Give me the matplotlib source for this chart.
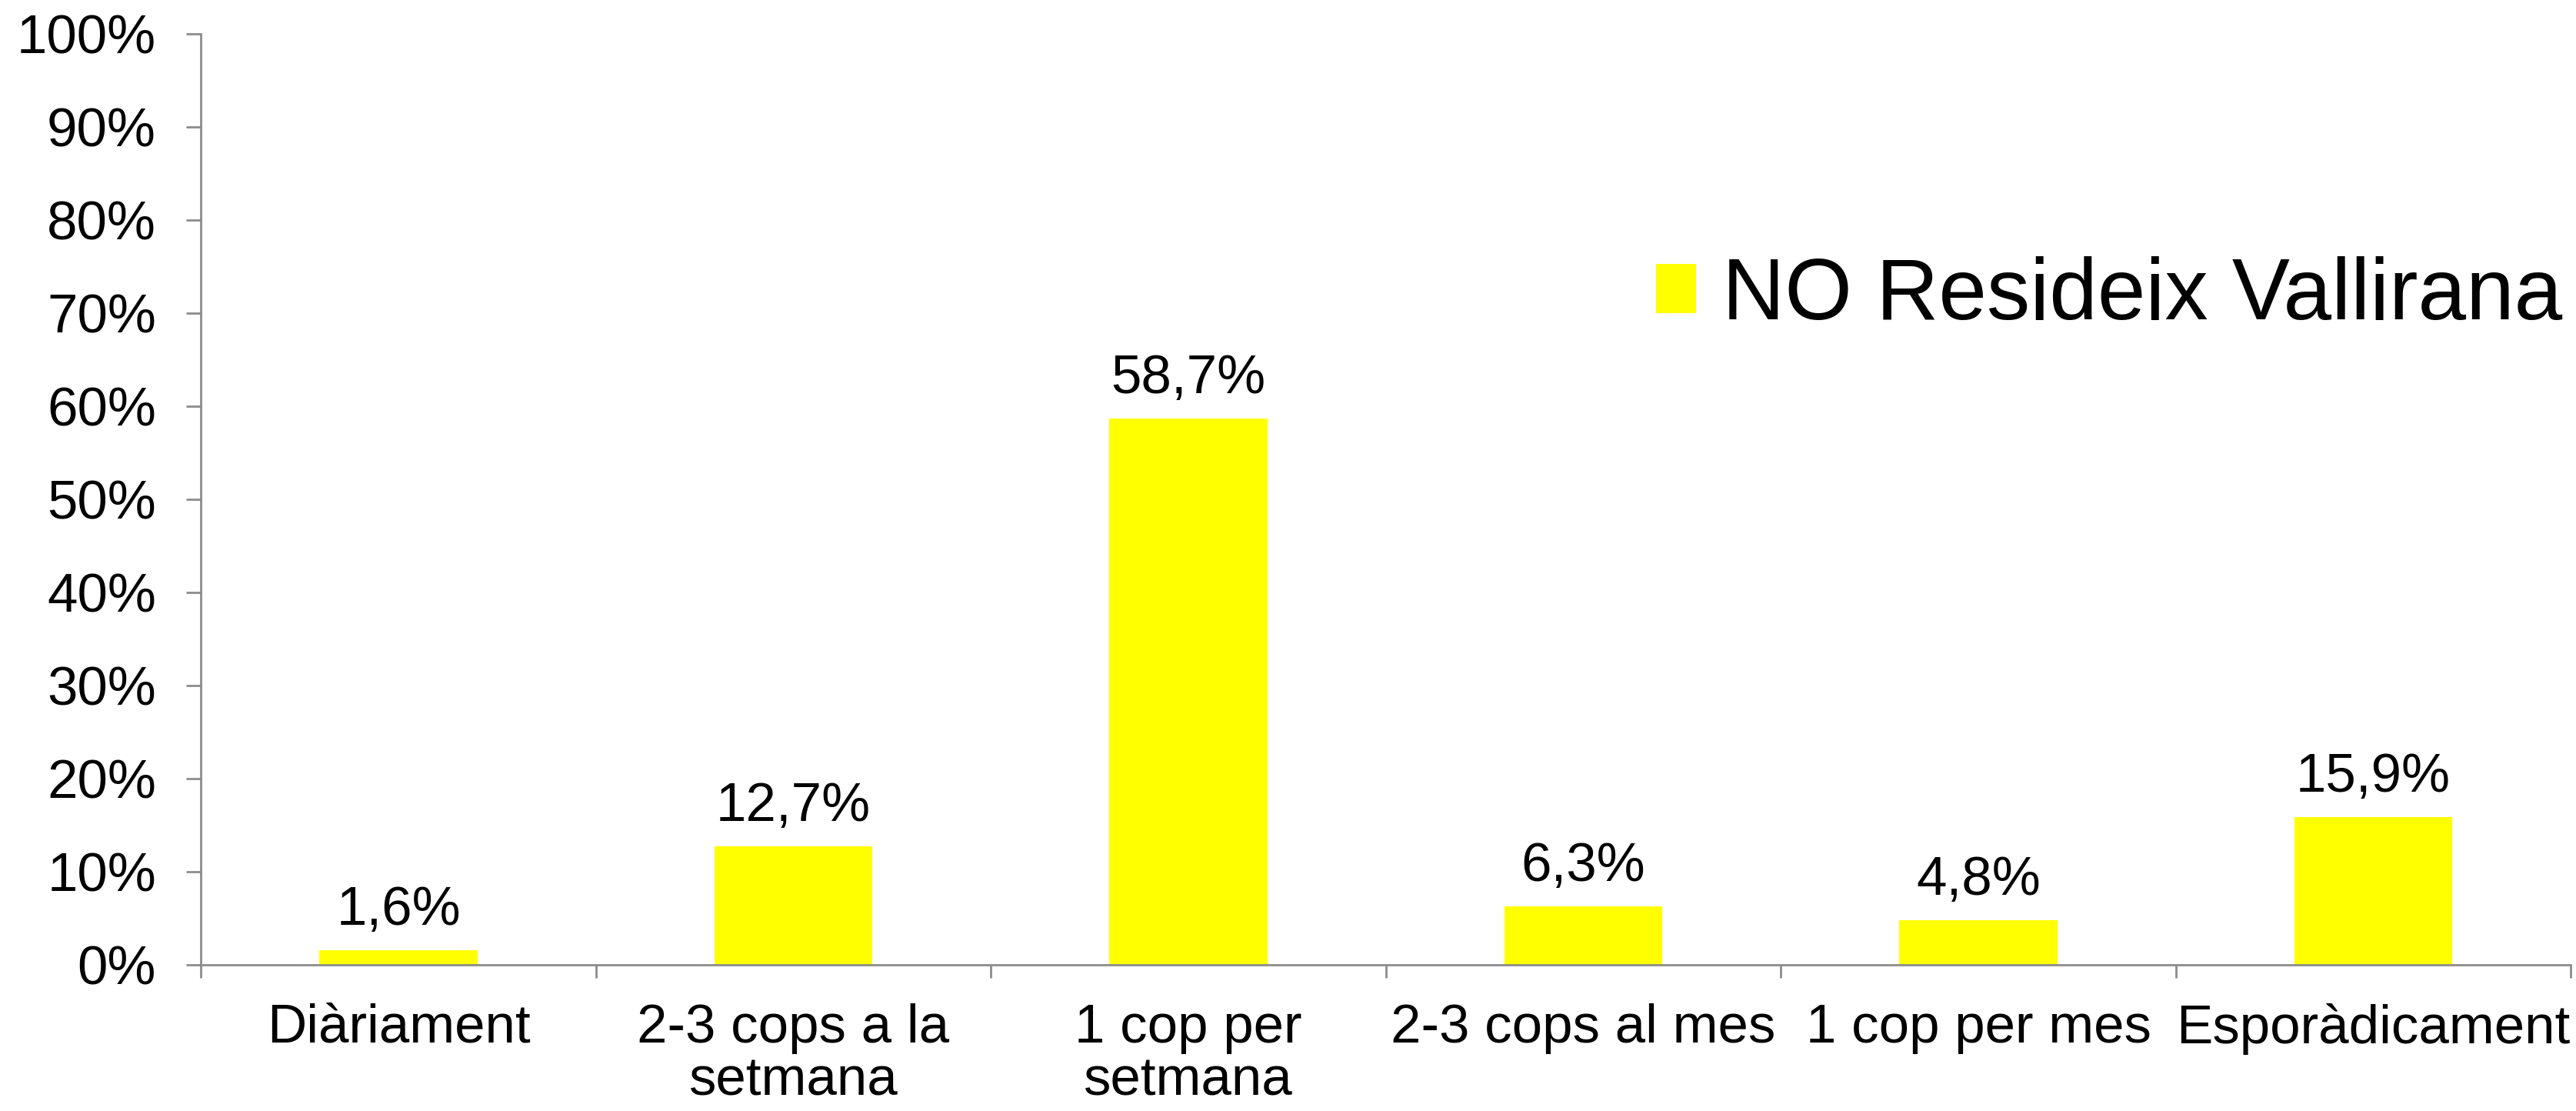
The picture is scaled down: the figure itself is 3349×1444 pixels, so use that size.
import matplotlib
matplotlib.use('Agg')
import matplotlib.pyplot as plt
import numpy as np

plt.rcParams['font.family'] = ['Liberation Sans', 'DejaVu Sans']

# data
categories = ["Diàriament", "2-3 cops a la\nsetmana", "1 cop per\nsetmana",
              "2-3 cops al mes", "1 cop per mes", "Esporàdicament"]
values = [1.6, 12.7, 58.7, 6.3, 4.8, 15.9]
series_name = "NO Resideix Vallirana"
yticks = [0, 10, 20, 30, 40, 50, 60, 70, 80, 90, 100]

grey = '#8c8c8c'
fs = 51

fig = plt.figure(figsize=(33.49, 14.44), dpi=100)
ax = fig.add_axes([0.078, 0.1316, 0.920, 0.838])

x = np.arange(len(categories))
bars = ax.bar(x, values, width=0.4, color='#ffff00', label=series_name, zorder=2)

for xi, v in zip(x, values):
    ax.annotate(("%.1f%%" % v).replace('.', ','), (xi, v), xytext=(0, 13),
                textcoords='offset points', ha='center', va='bottom', fontsize=fs)

ax.set_xlim(-0.5, len(categories) - 0.5)
ax.set_ylim(0, 100)
ax.set_yticks(yticks)
ax.set_yticklabels(["%d%%" % t for t in yticks])

ax.set_xticks(x)
ax.set_xticklabels(categories, linespacing=1.05)
ax.set_xticks(np.arange(len(categories) + 1) - 0.5, minor=True)

for s in ['top', 'right']:
    ax.spines[s].set_visible(False)
for s in ['left', 'bottom']:
    ax.spines[s].set_color(grey)
    ax.spines[s].set_linewidth(2)

ax.tick_params(axis='y', length=14, width=2, color=grey, labelsize=fs, pad=28)
ax.tick_params(axis='x', which='major', length=0, labelsize=fs, pad=36)
ax.tick_params(axis='x', which='minor', length=12, width=2, color=grey)

fig.legend(handles=[bars], labels=[series_name], loc='center left',
           bbox_to_anchor=(0.643, 0.733), frameon=False, fontsize=81,
           handlelength=0.46, handleheight=0.5, handletextpad=0.3,
           borderpad=0, borderaxespad=0)

fig.savefig('out.png', dpi=100, facecolor='white')
